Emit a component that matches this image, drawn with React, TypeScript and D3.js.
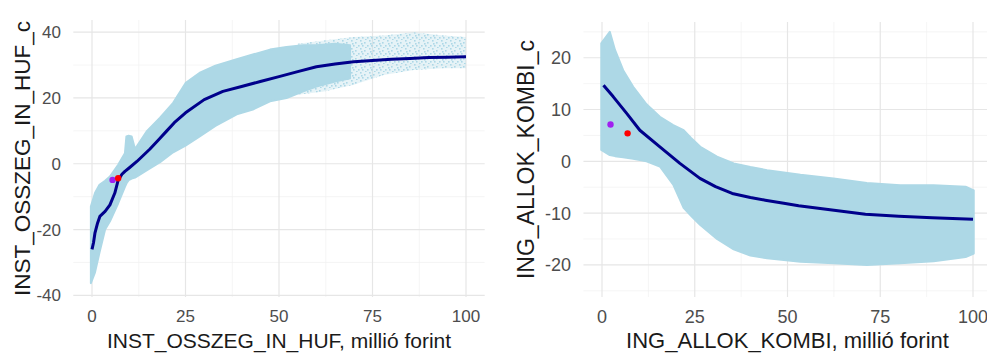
import React, { useEffect, useRef } from "react";
import * as d3 from "d3";

const W = 987;
const H = 353;

const xTicks = [0, 25, 50, 75, 100];
const xMinor = [12.5, 37.5, 62.5, 87.5];

// left panel: INST_OSSZEG_IN_HUF
const instTicksY = [-40, -20, 0, 20, 40];
const instMinorY = [-30, -10, 10, 30];
const instCloudX = [-0.3, 0.8, 2, 3.5, 4.8, 7, 8.8, 9.2, 9.8, 10.6, 11.5, 14.6, 18.2, 21.7, 25, 29, 33, 38.7, 43, 47.6, 52, 56.5, 60, 65, 69];
const instCloudHi = [-13, -8.9, -6.4, -5.2, -3.9, -0.3, 3.2, 8.3, 8.5, 8.3, 4.5, 9.8, 14, 18.5, 24.5, 27.8, 29.8, 31.8, 33.2, 34.7, 35.5, 36, 36, 36.5, 36];
const instCloudLo = [-36.3, -33, -27, -20, -17.5, -12, -7, -6, -5, -4.5, -4.2, -2, 0.5, 3.5, 5.5, 8.5, 11.5, 15, 16.5, 19, 20, 22, 23.5, 25, 26];
const instSparseX = [55, 62, 70, 78, 86, 94, 100];
const instSparseHi = [36.5, 37.5, 38.5, 39, 40, 39, 38.5];
const instSparseLo = [21, 22, 24, 27, 28.5, 29, 29];
const instLineX = [0, 0.4, 0.8, 1.5, 2.1, 3.5, 4.8, 6.1, 7, 8, 8.8, 10, 12, 15.5, 18, 20, 22, 25, 30, 35, 40, 45, 50, 55, 60, 65, 70, 75, 80, 85, 90, 95, 100];
const instLineY = [-26, -24, -21, -18, -16, -14.5, -12.5, -8.9, -5, -3.2, -2.3, -1.2, 0.7, 4.5, 7.5, 10, 12.5, 15.5, 19.5, 22, 23.5, 25, 26.5, 28, 29.5, 30.3, 31, 31.4, 31.8, 32, 32.3, 32.4, 32.5];
const instPointX = [5.5, 7];
const instPointY = [-4.9, -4.4];

// right panel: ING_ALLOK_KOMBI
const ingTicksY = [-20, -10, 0, 10, 20];
const ingMinorY = [-25, -15, -5, 5, 15, 25];
const ingCloudX = [-0.2, 2.1, 3.5, 5.7, 8.4, 12, 15.6, 19.2, 22, 24, 26.5, 31, 35.5, 40, 44.5, 53.5, 62.4, 71.4, 80.4, 89.4, 98, 100.2];
const ingCloudHi = [22.8, 25, 21.5, 17.6, 14.4, 11, 8.6, 7, 6, 4.5, 2.8, 0.9, -0.4, -1.1, -1.7, -2.6, -3.3, -4.2, -4.6, -4.6, -4.9, -5.6];
const ingCloudLo = [2.2, 1.2, 1, 0.8, 0.5, 0, -1, -4.5, -9, -10.5, -12.3, -15, -17, -18.2, -18.7, -19.4, -19.7, -20, -19.7, -19.3, -18.5, -17.8];
const ingLineX = [0.4, 3, 6.6, 10.2, 15.6, 21, 26.4, 30.6, 35.1, 40, 44, 49, 53, 62, 71, 80, 89, 100];
const ingLineY = [14.7, 12.5, 9.3, 6, 2.8, -0.4, -3.3, -4.9, -6.2, -7.0, -7.5, -8.1, -8.6, -9.4, -10.2, -10.6, -10.9, -11.2];
const ingPointX = [2.3, 6.9];
const ingPointY = [7.1, 5.4];

const pointColors = ["#a020f0", "#ff0000"];
const font = "Liberation Sans, Arial, sans-serif";

const panels = [
  {
    xRange: [92, 466], yDomain: [-40.5, 43.7], yRange: [297, 20],
    yTicks: instTicksY, yMinor: instMinorY,
    cloud: { x: instCloudX, hi: instCloudHi, lo: instCloudLo },
    sparse: { x: instSparseX, hi: instSparseHi, lo: instSparseLo },
    lineX: instLineX, lineY: instLineY, pointX: instPointX, pointY: instPointY,
    xTitle: "INST_OSSZEG_IN_HUF, millió forint", xTitleSize: 21,
    yTitle: "INST_OSSZEG_IN_HUF_c", yTitleSize: 22.5, yTitleX: 30, tickRight: 61,
    tickSize: 17, xTickY: 322,
  },
  {
    xRange: [602, 973], yDomain: [-26.2, 26.9], yRange: [297, 22],
    yTicks: ingTicksY, yMinor: ingMinorY,
    cloud: { x: ingCloudX, hi: ingCloudHi, lo: ingCloudLo },
    sparse: null,
    lineX: ingLineX, lineY: ingLineY, pointX: ingPointX, pointY: ingPointY,
    xTitle: "ING_ALLOK_KOMBI, millió forint", xTitleSize: 22,
    yTitle: "ING_ALLOK_KOMBI_c", yTitleSize: 23, yTitleX: 534, tickRight: 571,
    tickSize: 18, xTickY: 323,
  },
];

export default function App() {
  const svgRef = useRef(null);

  useEffect(() => {
    const svg = d3.select(svgRef.current);
    svg.selectAll("*").remove();

    // speckled fill for the sparse part of the cloud
    const pat = svg.append("defs").append("pattern")
      .attr("id", "speckle").attr("patternUnits", "userSpaceOnUse")
      .attr("width", 9).attr("height", 8);
    [[0, 0], [4, 2], [7, 5], [2, 5], [5, 7], [1, 3]].forEach(([a, b]) => {
      pat.append("rect").attr("x", a).attr("y", b).attr("width", 1.6).attr("height", 1.6)
        .attr("fill", "#add8e6");
    });

    panels.forEach((p) => {
      const x = d3.scaleLinear().domain([0, 100]).range(p.xRange);
      const [xl, xr] = [x(-5), x(105)];
      const y = d3.scaleLinear().domain(p.yDomain).range(p.yRange);
      const [yb, yt] = p.yRange;
      const g = svg.append("g");

      // grid
      g.selectAll(".vminor").data(xMinor).enter().append("line")
        .attr("x1", (d) => x(d)).attr("x2", (d) => x(d)).attr("y1", yt).attr("y2", yb)
        .attr("stroke", "#f0f0f0").attr("stroke-width", 0.7);
      g.selectAll(".hminor").data(p.yMinor).enter().append("line")
        .attr("x1", xl).attr("x2", xr).attr("y1", (d) => y(d)).attr("y2", (d) => y(d))
        .attr("stroke", "#f0f0f0").attr("stroke-width", 0.7);
      g.selectAll(".vmajor").data(xTicks).enter().append("line")
        .attr("x1", (d) => x(d)).attr("x2", (d) => x(d)).attr("y1", yt).attr("y2", yb)
        .attr("stroke", "#e6e6e6").attr("stroke-width", 1.2);
      g.selectAll(".hmajor").data(p.yTicks).enter().append("line")
        .attr("x1", xl).attr("x2", xr).attr("y1", (d) => y(d)).attr("y2", (d) => y(d))
        .attr("stroke", "#e6e6e6").attr("stroke-width", 1.2);

      const band = (b) => {
        const pts = b.x.map((v, i) => ({ x: v, hi: b.hi[i], lo: b.lo[i] }));
        return d3.area<any>().x((d) => x(d.x)).y0((d) => y(d.lo)).y1((d) => y(d.hi))(pts);
      };

      if (p.sparse) {
        g.append("path").attr("d", band(p.sparse)).attr("fill", "#add8e6").attr("opacity", 0.3);
        g.append("path").attr("d", band(p.sparse)).attr("fill", "url(#speckle)");
      }
      g.append("path").attr("d", band(p.cloud)).attr("fill", "#add8e6")
        .attr("stroke", "#add8e6").attr("stroke-width", 2).attr("stroke-linejoin", "round");

      const linePts = p.lineX.map((v, i) => [v, p.lineY[i]]);
      g.append("path")
        .attr("d", d3.line().x((d) => x(d[0])).y((d) => y(d[1]))(linePts))
        .attr("fill", "none").attr("stroke", "#00008b").attr("stroke-width", 3)
        .attr("stroke-linejoin", "round");

      p.pointX.forEach((v, i) => {
        g.append("circle").attr("cx", x(v)).attr("cy", y(p.pointY[i])).attr("r", 3.2)
          .attr("fill", pointColors[i]);
      });

      // tick labels
      g.selectAll(".xt").data(xTicks).enter().append("text")
        .attr("x", (d) => x(d)).attr("y", p.xTickY).attr("text-anchor", "middle")
        .attr("font-family", font).attr("font-size", p.tickSize)
        .attr("fill", "#4d4d4d").text((d) => d);
      g.selectAll(".yt").data(p.yTicks).enter().append("text")
        .attr("x", p.tickRight).attr("y", (d) => y(d)).attr("dy", "0.36em")
        .attr("text-anchor", "end")
        .attr("font-family", font).attr("font-size", p.tickSize)
        .attr("fill", "#4d4d4d").text((d) => d);

      // titles
      g.append("text").attr("x", (xl + xr) / 2).attr("y", 348).attr("text-anchor", "middle")
        .attr("font-family", font).attr("font-size", p.xTitleSize)
        .attr("fill", "#1a1a1a").text(p.xTitle);
      g.append("text")
        .attr("transform", `translate(${p.yTitleX},${(yt + yb) / 2}) rotate(-90)`)
        .attr("text-anchor", "middle")
        .attr("font-family", font).attr("font-size", p.yTitleSize)
        .attr("fill", "#1a1a1a").text(p.yTitle);
    });
  }, []);

  return (
    <svg
      ref={svgRef}
      width={W}
      height={H}
      style={{ position: "absolute", left: 0, top: 0, background: "#fff" }}
    ></svg>
  );
}
